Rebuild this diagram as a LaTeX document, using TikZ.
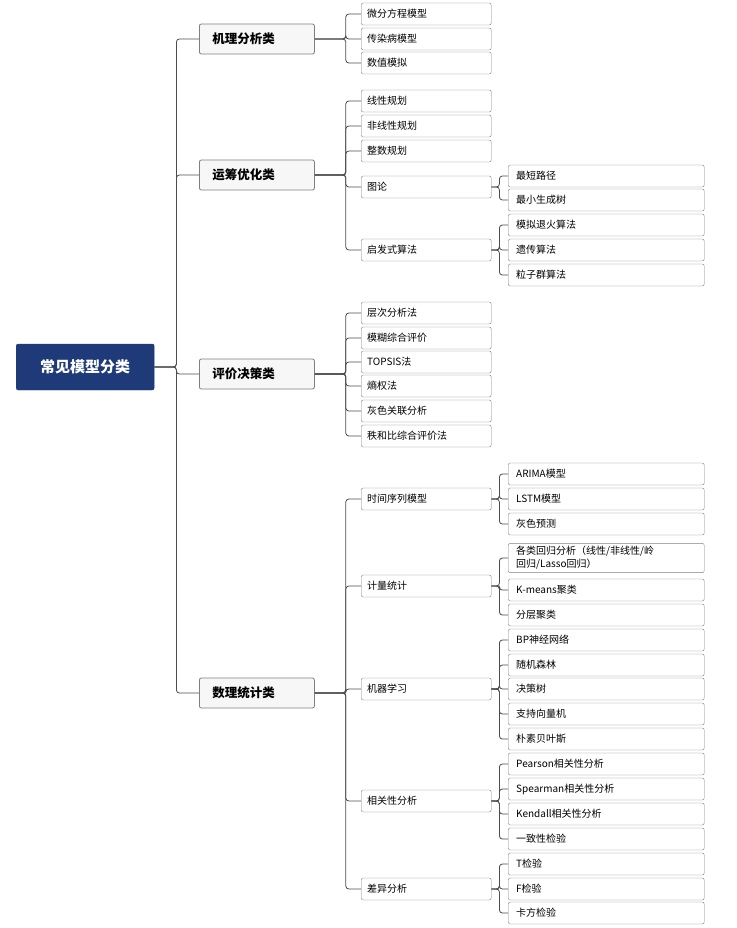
\documentclass[tikz,border=0pt]{standalone}
\usepackage{fontspec}
\setmainfont{Noto Sans CJK SC}
\usetikzlibrary{positioning}
\definecolor{rootblue}{HTML}{1F3A78}
\definecolor{boxfill}{HTML}{F7F7F7}
\definecolor{boxline}{HTML}{7F7F7F}
\tikzset{
    root/.style={
           rectangle, rounded corners=2pt,
           fill=rootblue, draw=rootblue,
           text=white, font=\fontsize{15}{18}\selectfont\bfseries,
           minimum width=138pt, minimum height=46pt,
           anchor=west,
           },
    cat/.style={
           rectangle, rounded corners=2pt,
           fill=boxfill, draw=boxline, thick,
           font=\fontsize{12.5}{15}\selectfont\bfseries,
           minimum width=115pt, minimum height=30pt,
           anchor=west, text width=89pt, align=left,
           },
    leaf/.style={
           rectangle, rounded corners=2pt,
           fill=white, draw=boxline,
           font=\fontsize{10}{13}\selectfont,
           minimum height=22pt, inner sep=3pt,
           anchor=west, align=left,
           },
    mid/.style={leaf, minimum width=130pt, text width=118pt},
    sub/.style={leaf, minimum width=196pt, text width=180pt},
    link/.style={draw=black!70, thick, rounded corners=3pt},
}
\begin{document}
\begin{tikzpicture}[x=1pt,y=-1pt]
    \useasboundingbox (0,0) rectangle (736,928);
    % root and main categories
    \node[root] (root) at (16,367) {常见模型分类};
    \node[cat] (mech) at (199,39) {机理分析类};
    \node[cat] (opt) at (199,175) {运筹优化类};
    \node[cat] (eval) at (199,374) {评价决策类};
    \node[cat] (stat) at (199,693) {数理统计类};
    \foreach \c in {mech,opt,eval,stat}
        \draw[link] (root.east) -- ++(22,0) |- (\c.west);

    % second level
    \foreach \n/\y/\t/\p in {
        m1/14/微分方程模型/mech, m2/39/传染病模型/mech, m3/63/数值模拟/mech,
        o1/101/线性规划/opt, o2/126/非线性规划/opt, o3/151/整数规划/opt,
        o4/187/图论/opt, o5/250/启发式算法/opt,
        e1/313/层次分析法/eval, e2/338/模糊综合评价/eval, e3/362/TOPSIS法/eval,
        e4/386/熵权法/eval, e5/411/灰色关联分析/eval, e6/436/秩和比综合评价法/eval,
        s1/499/时间序列模型/stat, s2/586/计量统计/stat, s3/689/机器学习/stat,
        s4/801/相关性分析/stat, s5/889/差异分析/stat}
    {
        \node[mid] (\n) at (361,\y) {\t};
        \draw[link] (\p.east) -- ++(31,0) |- (\n.west);
    }

    % third level
    \foreach \n/\y/\t/\p in {
        g1/176/最短路径/o4, g2/200/最小生成树/o4,
        h1/225/模拟退火算法/o5, h2/250/遗传算法/o5, h3/275/粒子群算法/o5,
        t1/474/ARIMA模型/s1, t2/499/LSTM模型/s1, t3/524/灰色预测/s1,
        r1/558/{各类回归分析（线性/非线性/岭\\回归/Lasso回归）}/s2,
        r2/590/K-means聚类/s2, r3/615/分层聚类/s2,
        l1/640/BP神经网络/s3, l2/665/随机森林/s3, l3/689/决策树/s3,
        l4/714/支持向量机/s3, l5/739/朴素贝叶斯/s3,
        c1/764/Pearson相关性分析/s4, c2/789/Spearman相关性分析/s4,
        c3/814/Kendall相关性分析/s4, c4/839/一致性检验/s4,
        d1/864/T检验/s5, d2/889/F检验/s5, d3/913/卡方检验/s5}
    {
        \node[sub] (\n) at (508,\y) {\t};
        \draw[link] (\p.east) -- ++(8,0) |- (\n.west);
    }
\end{tikzpicture}
\end{document}
